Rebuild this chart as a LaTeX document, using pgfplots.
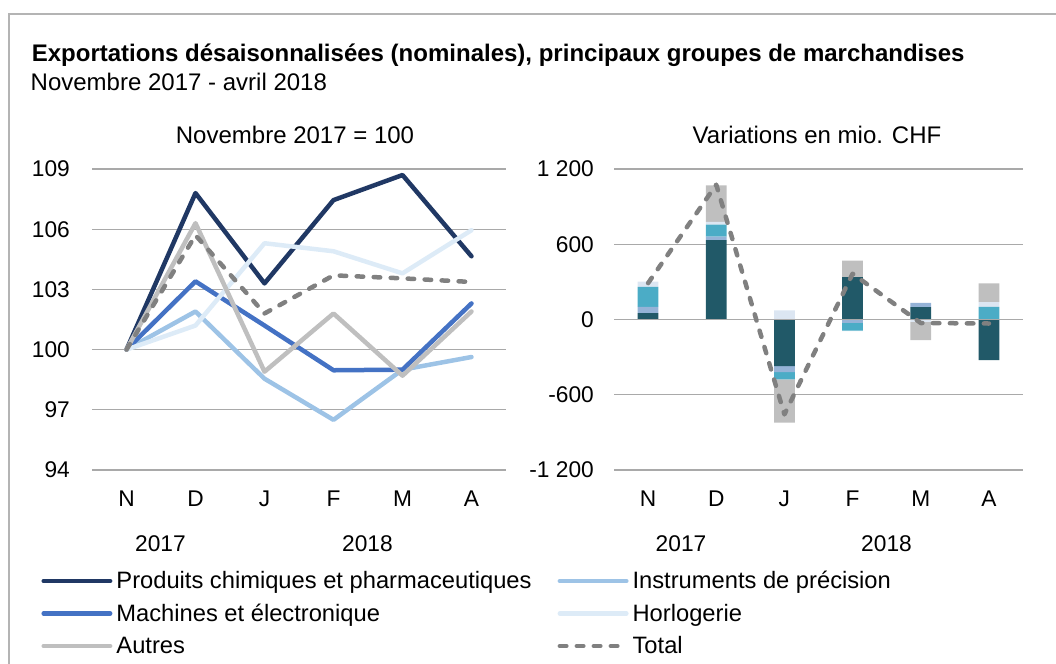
\documentclass[border=0pt]{standalone}
\usepackage{pgfplots}
\pgfplotsset{compat=1.18}
\usepackage{pgfplotstable}
\usepackage{fontspec}
\setmainfont{Liberation Sans}

\definecolor{cChem}{HTML}{203864}
\definecolor{cMach}{HTML}{4472C4}
\definecolor{cInstr}{HTML}{9DC3E6}
\definecolor{cHorl}{HTML}{DDEBF7}
\definecolor{cAutres}{HTML}{BFBFBF}
\definecolor{cTotal}{HTML}{808080}
\definecolor{bChem}{HTML}{215968}
\definecolor{bInstr}{HTML}{95B3D7}
\definecolor{bMach}{HTML}{4BACC6}
\definecolor{bHorl}{HTML}{DCE6F2}
\definecolor{bAutres}{HTML}{BFBFBF}
\definecolor{gridc}{HTML}{A9A9A9}
\definecolor{framec}{HTML}{B4B4B4}

\newcommand\fs{\fontsize{24.1}{28}\selectfont}
\newcommand\fst{\fontsize{22.8}{27}\selectfont}
\newcommand\fsl{\fontsize{23.8}{28}\selectfont}

% Index, Novembre 2017 = 100
\pgfplotstableread{
x chem instr mach horl autres total
0 100 100 100 100 100 100
1 107.8 101.9 103.4 101.2 106.3 105.7
2 103.3 98.55 101.2 105.3 98.9 101.8
3 107.45 96.5 98.97 104.9 101.8 103.7
4 108.7 99.0 99.0 103.8 98.7 103.55
5 104.65 99.63 102.3 105.95 101.9 103.37
}\idx

% Variations (mio. CHF), positive parts
\pgfplotstableread{
x chem instr mach horl autres
0 50 51 159 42 0
1 632 29 96 21 292
2 0 0 0 72 0
3 337 0 0 0 133
4 98 35 0 0 0
5 0 0 101 37 149
}\pos

% Variations (mio. CHF), negative parts
\pgfplotstableread{
x chem instr mach horl autres
0 0 0 0 0 0
1 0 0 0 0 0
2 -372 -48 -58 0 -345
3 0 -27 -61 -5 0
4 0 0 0 -18 -146
5 -324 0 0 0 0
}\negt

\pgfplotstableread{
x total
0 290
1 1075
2 -757
3 365
4 -28
5 -32
}\tot

\pgfplotsset{
 base/.style={
   scale only axis, anchor=south west,
   xmin=-0.5, xmax=5.5,
   xtick={0,...,5}, xticklabels={N,D,J,F,M,A},
   axis line style={draw=none},
   tick style={draw=none},
   major tick length=0pt,
   ymajorgrids, grid style={gridc, line width=1.3bp},
   ticklabel style={font=\fst, inner sep=0pt},
   xticklabel style={anchor=north},
   yticklabel style={anchor=east},
   xticklabel shift=21bp,
   /pgf/number format/assume math mode=true,
   clip=false,
 },
 hidden/.style={
   scale only axis, anchor=south west,
   xmin=-0.5, xmax=5.5, ymin=-1200, ymax=1200,
   hide axis, xtick=\empty, ytick=\empty, clip=false,
   at={(614bp,194bp)}, width=409bp, height=301bp,
 }
}

\begin{document}
\begin{tikzpicture}
\path[use as bounding box] (0bp,0bp) rectangle (1056bp,664bp);
\draw[framec, line width=1.5bp] (9bp,-5bp) -- (9bp,650bp) -- (1061bp,650bp);

% ---------- left: index lines ----------
\begin{axis}[base, at={(92bp,194bp)}, width=414bp, height=301bp,
  ymin=94, ymax=109, ytick={94,97,...,109}, yticklabel shift=22bp,
  legend columns=2, legend cell align=left,
  legend style={at={(-0.1226,-0.3233)}, anchor=north west, draw=none, fill=none,
     inner sep=0pt, font=\fsl, row sep=5.5bp,
     nodes={text height=19bp, text depth=4bp, inner xsep=3bp, inner ysep=2bp},
     /tikz/every odd column/.style={column sep=1bp},
     /tikz/every even column/.style={column sep=23bp}},
  legend image code/.code={\draw[#1, line cap=round] (0bp,0bp) -- (66.5bp,0bp);},
  every axis plot/.append style={line width=4.5bp, line cap=round, line join=round},
]
\addplot[cChem, no marks] table[x=x,y=chem]{\idx};
\addlegendentry{Produits chimiques et pharmaceutiques}
\addplot[cInstr, no marks] table[x=x,y=instr]{\idx};
\addlegendentry{Instruments de précision}
\addplot[cMach, no marks] table[x=x,y=mach]{\idx};
\addlegendentry{Machines et électronique}
\addplot[cHorl, no marks] table[x=x,y=horl]{\idx};
\addlegendentry{Horlogerie}
\addplot[cAutres, no marks] table[x=x,y=autres]{\idx};
\addlegendentry{Autres}
\addplot[cTotal, no marks, dash pattern=on 6.5bp off 10.5bp] table[x=x,y=total]{\idx};
\addlegendentry{Total}
\end{axis}

% ---------- right: stacked variations ----------
\begin{axis}[base, at={(614bp,194bp)}, width=409bp, height=301bp,
  ymin=-1200, ymax=1200, ytick={-1200,-600,0,600,1200},
  yticklabels={-1 200,-600,0,600,1 200}, yticklabel shift=20bp,
  ybar stacked, bar width=20.7bp]
\addplot[fill=bChem, draw=none] table[x=x,y=chem]{\negt};
\addplot[fill=bInstr, draw=none] table[x=x,y=instr]{\negt};
\addplot[fill=bMach, draw=none] table[x=x,y=mach]{\negt};
\addplot[fill=bHorl, draw=none] table[x=x,y=horl]{\negt};
\addplot[fill=bAutres, draw=none] table[x=x,y=autres]{\negt};
\end{axis}
\begin{axis}[hidden, ybar stacked, bar width=20.7bp]
\addplot[fill=bChem, draw=none] table[x=x,y=chem]{\pos};
\addplot[fill=bInstr, draw=none] table[x=x,y=instr]{\pos};
\addplot[fill=bMach, draw=none] table[x=x,y=mach]{\pos};
\addplot[fill=bHorl, draw=none] table[x=x,y=horl]{\pos};
\addplot[fill=bAutres, draw=none] table[x=x,y=autres]{\pos};
\end{axis}
\begin{axis}[hidden]
\draw[gridc, line width=1.3bp] (axis cs:-0.5,0) -- (axis cs:5.5,0);
\addplot[cTotal, no marks, line width=4.5bp, line cap=round, line join=round,
   dash pattern=on 6.5bp off 10.5bp] table[x=x,y=total]{\tot};
\end{axis}

% ---------- texts ----------
\node[anchor=base west, inner sep=0pt, font=\fs\bfseries] at (31.6bp,602.3bp)
  {Exportations désaisonnalisées (nominales), principaux groupes de marchandises};
\node[anchor=base west, inner sep=0pt, font=\fs] at (30.5bp,573.3bp)
  {Novembre 2017 - avril 2018};
\node[anchor=base, inner sep=0pt, font=\fs] at (295bp,520.7bp) {Novembre 2017 = 100};
\node[anchor=base, inner sep=0pt, font=\fs] at (817bp,520.7bp) {Variations en mio. CHF};
\node[anchor=base, inner sep=0pt, font=\fst] at (160.5bp,112.3bp) {2017};
\node[anchor=base, inner sep=0pt, font=\fst] at (367.5bp,112.3bp) {2018};
\node[anchor=base, inner sep=0pt, font=\fst] at (681bp,112.3bp) {2017};
\node[anchor=base, inner sep=0pt, font=\fst] at (886.5bp,112.3bp) {2018};
\end{tikzpicture}
\end{document}
